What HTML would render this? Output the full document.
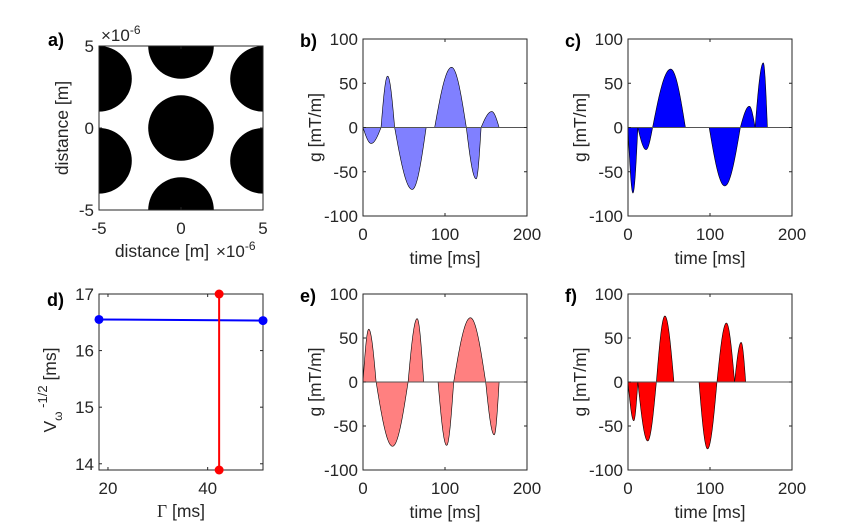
<!DOCTYPE html>
<html><head><meta charset="utf-8"><style>
body{margin:0;background:#fff;width:850px;height:524px;overflow:hidden}
svg{display:block;font-family:"Liberation Sans",sans-serif}
.t{font-size:17px;fill:#262626}
.l{font-size:17.5px;fill:#262626}
.p{font-size:18px;font-weight:bold;fill:#000}
</style></head><body>
<svg id="fig" width="850" height="524" xmlns="http://www.w3.org/2000/svg"></svg>
<script>
// Waveform lobes: start time, end time, peak time, peak value (ms, mT/m)
const bStarts=[0,22,38.6,87.4,126,144], bEnds=[22,38.6,77,126,144,166], bPeakT=[10,30,60,108,138,157], bPeaks=[-18,58,-70,68,-58,18];
const cStarts=[0,12,30,99,137,155], cEnds=[12,30,70,137,155,170], cPeakT=[6,22,52,118,148,165], cPeaks=[-74,-25,66,-66,24,73];
const eStarts=[0,16,55,91.5,110.6,149.6], eEnds=[16,55,74,110.6,149.6,166], ePeakT=[7,36,66,102,131,160], ePeaks=[60,-73,72,-72,73,-60];
const fStarts=[0,12,34.6,86.6,108.5,130], fEnds=[12,34.6,56,108.5,130,143.5], fPeakT=[7,24,45,97,120,138], fPeaks=[-44,-67,75,-76,67,45];
const gTicksX=[0,100,200], gTicksY=[-100,-50,0,50,100];
// Panel d
const blueX=[18.2,51.1], blueY=[16.55,16.53];
const redX=[42.3,42.3], redY=[13.89,17.0];
const dTicksX=[20,40], dTicksY=[14,15,16,17];
// Panel a circles (x,y in 1e-6 m), radius
const circX=[0,0,0,-5,-5,5,5], circY=[0,5,-5,3,-2,3,-2], circR=2;
const aTicks=[-5,0,5];

const NS="http://www.w3.org/2000/svg", svg=document.getElementById('fig');
function mk(tag,attrs,parent,txt){const e=document.createElementNS(NS,tag);for(const k in attrs)e.setAttribute(k,attrs[k]);if(txt!==undefined)e.textContent=txt;(parent||svg).appendChild(e);return e;}
function lin(d0,d1,r0,r1){return v=>r0+(v-d0)*(r1-r0)/(d1-d0);}

function axesFrame(g,L,T,W,H,sx,sy,tx,ty,fmtx,fmty){
  tx.forEach(v=>{const x=sx(v);
    const a=mk('line',{x1:x,y1:T+H,x2:x,y2:T+H-3,stroke:'#262626'},g);
    mk('line',{x1:x,y1:T,x2:x,y2:T+3,stroke:'#262626'},g);
    const t=mk('text',{x:x,y:T+H+24,'text-anchor':'middle',class:'t'},g,fmtx(v));});
  ty.forEach(v=>{const y=sy(v);
    mk('line',{x1:L,y1:y,x2:L+3,y2:y,stroke:'#262626'},g);
    mk('line',{x1:L+W,y1:y,x2:L+W-3,y2:y,stroke:'#262626'},g);
    const t=mk('text',{x:L-5,y:y+6,'text-anchor':'end',class:'t'},g,fmty(v));});
  const r=mk('rect',{x:L,y:T,width:W,height:H,fill:'none',stroke:'#262626','stroke-width':1},g);
  
}

function gradPanel(name,L,T,W,H,starts,ends,pt,pk,color,letter){
  const g=mk('g',{});
  const sx=lin(0,200,L,L+W), sy=lin(-100,100,T+H,T);
  mk('rect',{x:L,y:T,width:W,height:H,fill:'#fff'},g);
  for(let i=0;i<starts.length;i++){
    let d='M'+sx(starts[i])+' '+sy(0);
    const N=30;
    for(let k=0;k<=N;k++){const t=starts[i]+(pt[i]-starts[i])*k/N;const v=pk[i]*Math.sin(Math.PI/2*k/N);d+=' L'+sx(t).toFixed(2)+' '+sy(v).toFixed(2);}
    for(let k=1;k<=N;k++){const t=pt[i]+(ends[i]-pt[i])*k/N;const v=pk[i]*Math.cos(Math.PI/2*k/N);d+=' L'+sx(t).toFixed(2)+' '+sy(v).toFixed(2);}
    d+='Z';
    const p=mk('path',{d:d,fill:color,stroke:'#000','stroke-width':0.6},g);
    
  }
  const z=mk('line',{x1:L,y1:sy(0),x2:L+W,y2:sy(0),stroke:'#555','stroke-width':1},g);
  
  axesFrame(g,L,T,W,H,sx,sy,gTicksX,gTicksY,v=>v,v=>v);
  const yl=mk('text',{x:0,y:0,transform:`translate(${L-42},${T+H/2}) rotate(-90)`,'text-anchor':'middle',class:'l'},g,'g [mT/m]');
  
  const xl=mk('text',{x:L+W/2,y:T+H+48,'text-anchor':'middle',class:'l'},g,'time [ms]');
  
  const pl=mk('text',{x:L-63,y:T+8,class:'p'},g,letter);
  
}

// Panel a
(function(){
  const L=99,T=46,W=164,H=164;
  const g=mk('g',{});
  const sx=lin(-5,5,L,L+W), sy=lin(-5,5,T+H,T);
  mk('clipPath',{id:'ca'},g);mk('rect',{x:L,y:T,width:W,height:H},document.getElementById('ca'));
  const cg=mk('g',{'clip-path':'url(#ca)'},g);
  for(let i=0;i<circX.length;i++){const c=mk('circle',{cx:sx(circX[i]),cy:sy(circY[i]),r:sx(circR)-sx(0),fill:'#000'},cg);
    }
  axesFrame(g,L,T,W,H,sx,sy,aTicks,aTicks,v=>v,v=>v);
  const yl=mk('text',{x:0,y:0,transform:`translate(${L-31},${T+H/2}) rotate(-90)`,'text-anchor':'middle',class:'l'},g,'distance [m]');
  
  const xl=mk('text',{x:L+W/2-19,y:T+H+47,'text-anchor':'middle',class:'l'},g,'distance [m]');
  
  const e1=mk('text',{x:L+2,y:T-5,class:'t'},g);e1.innerHTML='×10<tspan dy="-7" font-size="12">-6</tspan>';
  
  const e2=mk('text',{x:L+W-47,y:T+H+47,class:'t'},g);e2.innerHTML='×10<tspan dy="-7" font-size="12">-6</tspan>';
  
  const pl=mk('text',{x:48,y:T,class:'p'},g,'a)');
})();

gradPanel('panel-b-gradient',363,39,164,177,bStarts,bEnds,bPeakT,bPeaks,'#8080ff','b)');
gradPanel('panel-c-gradient',628,39,164,177,cStarts,cEnds,cPeakT,cPeaks,'#0000ff','c)');
gradPanel('panel-e-gradient',363,294,164,176,eStarts,eEnds,ePeakT,ePeaks,'#ff8080','e)');
gradPanel('panel-f-gradient',628,294,164,176,fStarts,fEnds,fPeakT,fPeaks,'#ff0000','f)');

// Panel d
(function(){
  const L=99,T=294,W=164,H=176;
  const g=mk('g',{});
  const sx=lin(18.2,51.1,L,L+W), sy=lin(13.89,17.0,T+H,T);
  axesFrame(g,L,T,W,H,sx,sy,dTicksX,dTicksY,v=>v,v=>v);
  [[blueX,blueY,'#0000ff','blue-series'],[redX,redY,'#ff0000','red-series']].forEach(([xs,ys,c,n])=>{
    const ln=mk('line',{x1:sx(xs[0]),y1:sy(ys[0]),x2:sx(xs[1]),y2:sy(ys[1]),stroke:c,'stroke-width':2},g);
    
    for(let i=0;i<xs.length;i++){const m=mk('circle',{cx:sx(xs[i]),cy:sy(ys[i]),r:4.5,fill:c},g);
      }
  });
  const yl=mk('text',{x:0,y:0,transform:`translate(${L-43},${T+H/2+8}) rotate(-90)`,'text-anchor':'middle',class:'l'},g);
  yl.innerHTML='V<tspan dy="6" font-size="12">ω</tspan><tspan dy="-15" font-size="13"> -1/2</tspan><tspan dy="9"> [ms]</tspan>';
  
  const xl=mk('text',{x:L+W/2,y:T+H+47,'text-anchor':'middle',class:'l'},g);
  xl.innerHTML='<tspan font-family="Liberation Serif">Γ</tspan> [ms]';
  
  const pl=mk('text',{x:47,y:T+12,class:'p'},g,'d)');
})();
</script>
</body></html>
